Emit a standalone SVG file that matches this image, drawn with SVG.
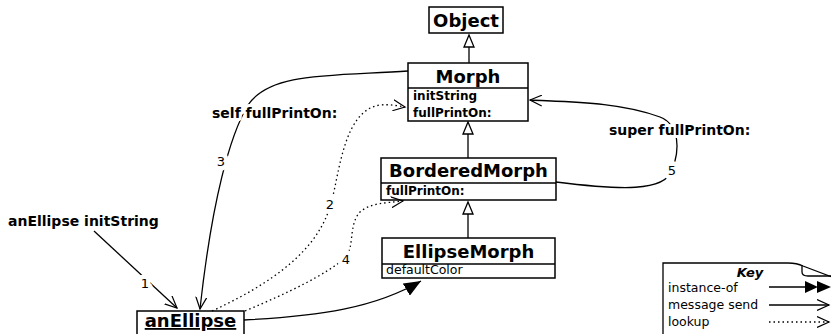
<svg xmlns="http://www.w3.org/2000/svg" width="831" height="334" viewBox="0 0 831 334">
<style>
.box{fill:#fff;stroke:#000;stroke-width:1.5}
.ln{fill:none;stroke:#000;stroke-width:1.3}
.dot{fill:none;stroke:#000;stroke-width:1.3;stroke-dasharray:1.5 3}
.t{font-family:"DejaVu Sans",sans-serif;fill:#000}
.title{font-size:18px;font-weight:bold;text-anchor:middle}
.meth{font-size:12px;font-weight:bold}
.reg{font-size:12.5px}
.lbl{font-size:14px;font-weight:bold;stroke:#fff;stroke-width:6;paint-order:stroke;stroke-linejoin:round}
.num{font-size:13px;text-anchor:middle;stroke:#fff;stroke-width:9;paint-order:stroke;stroke-linejoin:round}
.tri{fill:#fff;stroke:#000;stroke-width:1.3}
</style>
<defs>
<marker id="open" markerWidth="14" markerHeight="12" refX="12" refY="6" orient="auto" markerUnits="userSpaceOnUse">
<path d="M0,0.5 L12,6 L0,11.5" fill="none" stroke="#000" stroke-width="1.2"/>
</marker>
<marker id="fill" markerWidth="18" markerHeight="14" refX="17" refY="7" orient="auto" markerUnits="userSpaceOnUse">
<path d="M0,0 L17,7 L0,14 z" fill="#000"/>
</marker>
</defs>

<g id="inheritance">
<line class="ln" x1="469" y1="47" x2="469" y2="63"/>
<path class="tri" d="M469,35 L474,47 L464,47 z"/>
<line class="ln" x1="468" y1="134" x2="468" y2="158"/>
<path class="tri" d="M468,122 L473,134 L463,134 z"/>
<line class="ln" x1="468" y1="214" x2="468" y2="238"/>
<path class="tri" d="M468,202 L473,214 L463,214 z"/>
</g>

<g id="node-object">
<rect class="box" x="429" y="7" width="74" height="26"/>
<text class="t title" x="466" y="27">Object</text>
</g>

<g id="node-morph">
<rect class="box" x="408" y="63" width="120" height="58"/>
<line class="ln" x1="408" y1="88" x2="528" y2="88"/>
<text class="t title" x="468" y="83">Morph</text>
<text class="t meth" x="413" y="100">initString</text>
<text class="t meth" x="413" y="117">fullPrintOn:</text>
</g>

<g id="node-borderedmorph">
<rect class="box" x="381" y="158" width="175" height="42"/>
<line class="ln" x1="381" y1="183" x2="556" y2="183"/>
<text class="t title" x="468.5" y="177">BorderedMorph</text>
<text class="t meth" x="386" y="195">fullPrintOn:</text>
</g>

<g id="node-ellipsemorph">
<rect class="box" x="382" y="238" width="173" height="40"/>
<line class="ln" x1="382" y1="264" x2="555" y2="264"/>
<text class="t title" x="468.5" y="258">EllipseMorph</text>
<text class="t reg" x="386" y="274">defaultColor</text>
</g>

<g id="node-anellipse">
<rect class="box" x="137" y="311" width="107" height="30"/>
<text class="t title" x="190.5" y="327" text-decoration="underline">anEllipse</text>
</g>

<g id="connectors">
<path class="ln" d="M94,231 L177,308" marker-end="url(#open)"/>
<path class="ln" d="M408,71 C330,76 270,72 248,105 C230,135 212,200 200,309" marker-end="url(#open)"/>
<path class="dot" d="M212,311 C290,275 322,240 332,200 C340,168 345,110 380,105 C390,104 398,106 405,107" marker-end="url(#open)"/>
<path class="dot" d="M245,311 C290,292 325,275 345,258 C355,248 348,225 360,212 C370,203 385,203 403,201" marker-end="url(#open)"/>
<path class="ln" d="M556,182 C620,190 665,192 672,170 C680,150 680,125 660,117 C620,102 570,102 530,100" marker-end="url(#open)"/>
<path class="ln" d="M244,320 C320,316 375,308 421,281" marker-end="url(#fill)"/>
<text class="t lbl" x="8" y="226">anEllipse initString</text>
<text class="t num" x="145" y="288">1</text>
<text class="t lbl" x="212" y="118">self fullPrintOn:</text>
<text class="t num" x="221" y="166">3</text>
<text class="t num" x="330" y="209">2</text>
<text class="t num" x="346" y="264">4</text>
<text class="t lbl" x="609" y="135">super fullPrintOn:</text>
<text class="t num" x="672" y="175">5</text>
</g>

<g id="key">
<path d="M663,334 L663,263 L788,263 Q797,263 803,266 L840,280" fill="#fff" stroke="#000" stroke-width="1.3"/>
<path d="M802,265 L802,272 Q802,276 808,276 L840,276" fill="none" stroke="#000" stroke-width="1.3"/>
<text class="t" x="750" y="277" font-size="13" font-weight="bold" font-style="italic" text-anchor="middle">Key</text>
<text class="t reg" x="668" y="292">instance-of</text>
<text class="t reg" x="668" y="309">message send</text>
<text class="t reg" x="668" y="326">lookup</text>
<line class="ln" x1="769" y1="287" x2="806" y2="287"/>
<path d="M805,281 L818,287 L805,293 z M817,281 L831,287 L817,293 z" fill="#000"/>
<path class="ln" d="M769,305 L829,305" marker-end="url(#open)"/>
<path class="dot" d="M769,322 L829,322" marker-end="url(#open)"/>
</g>
</svg>
